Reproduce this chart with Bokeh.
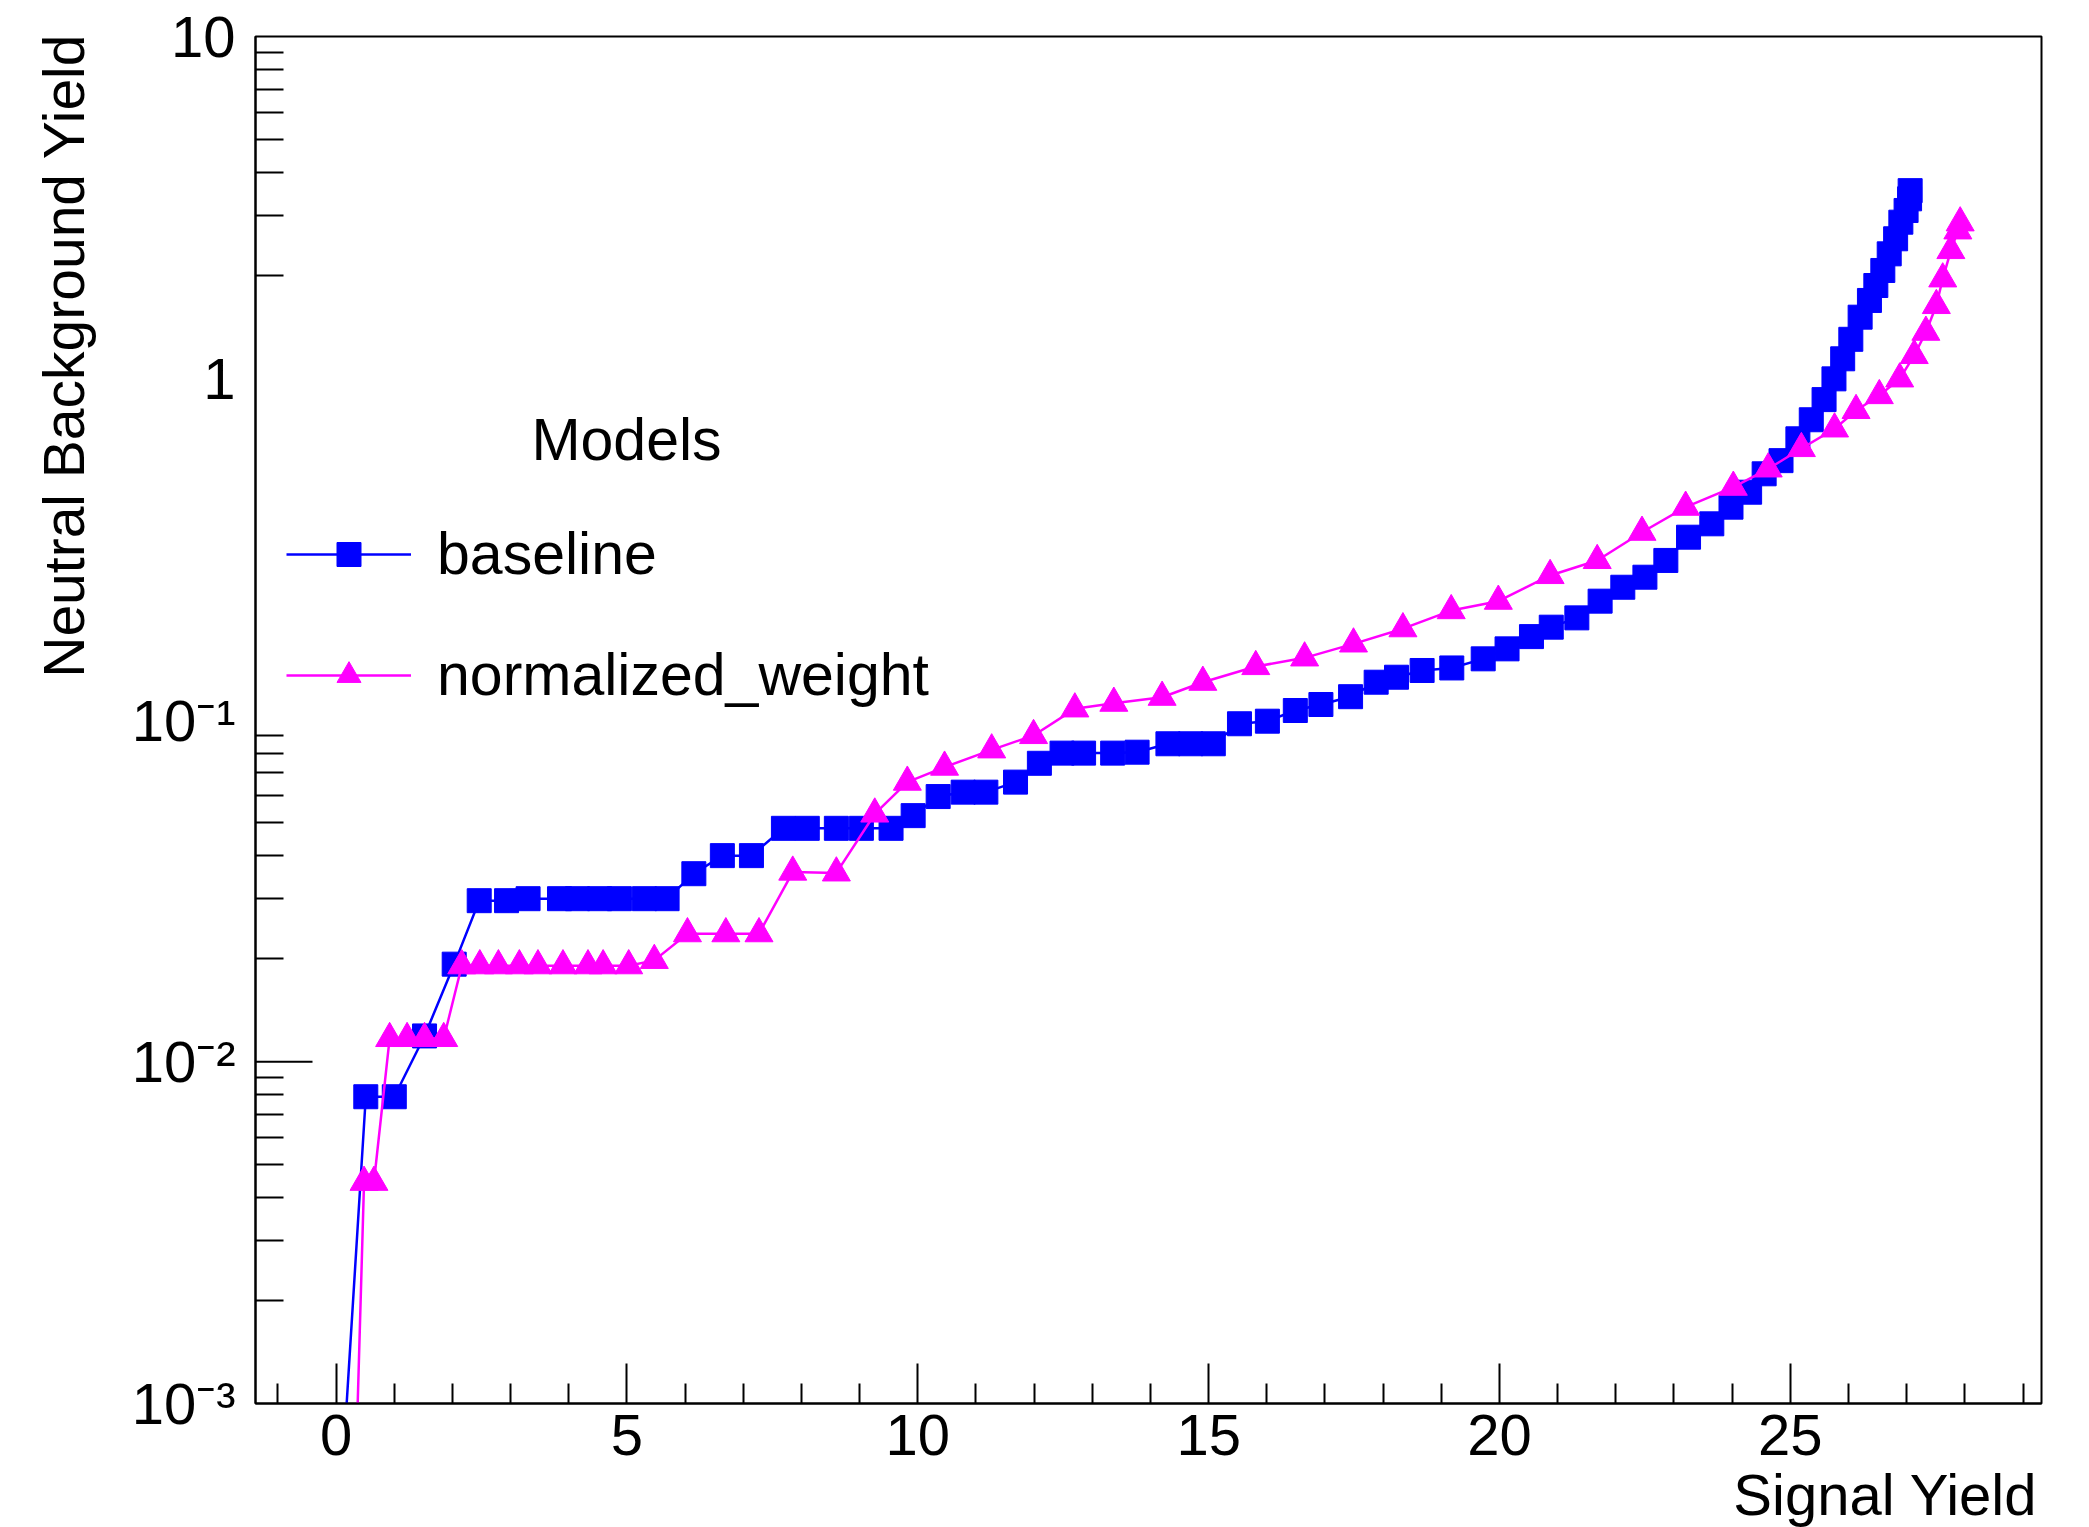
from bokeh.plotting import figure
from bokeh.models import Range1d, FixedTicker, Label, Legend, LegendItem
from bokeh.embed import file_html
from bokeh.resources import INLINE

# ---------------- data ----------------
baseline_x = [0.00, 0.51, 1.00, 1.52, 2.03, 2.46, 2.93, 3.30, 3.84, 4.15, 4.53, 4.87,
              5.30, 5.69, 6.15, 6.64, 7.14, 7.69, 8.10, 8.60, 9.03, 9.54, 9.92, 10.35,
              10.78, 11.17, 11.68, 12.09, 12.48, 12.85, 13.35, 13.77, 14.30, 14.69, 15.08,
              15.53, 16.01, 16.49, 16.93, 17.44, 17.88, 18.23, 18.67, 19.18, 19.72, 20.13,
              20.55, 20.89, 21.33, 21.73, 22.12, 22.50, 22.86, 23.25, 23.65, 23.98, 24.30,
              24.55, 24.84, 25.13, 25.36, 25.58, 25.75, 25.90, 26.04, 26.20, 26.36, 26.47,
              26.59, 26.70, 26.81, 26.90, 26.99, 27.05, 27.06]
baseline_y = [0.00032, 0.0079, 0.0079, 0.0119, 0.0193, 0.0296, 0.0296, 0.0300, 0.0300,
              0.0300, 0.0300, 0.0300, 0.0300, 0.0300, 0.0355, 0.0401, 0.0401, 0.0482,
              0.0482, 0.0482, 0.0482, 0.0482, 0.0525, 0.0597, 0.0615, 0.0615, 0.0658,
              0.0747, 0.0800, 0.0800, 0.0800, 0.0805, 0.0852, 0.0852, 0.0852, 0.0975,
              0.0992, 0.1066, 0.111, 0.117, 0.129, 0.1334, 0.1396, 0.142, 0.151, 0.1615,
              0.1754, 0.1869, 0.199, 0.2227, 0.2446, 0.2617, 0.293, 0.3427, 0.375, 0.4195,
              0.464, 0.5253, 0.574, 0.665, 0.756, 0.866, 0.996, 1.14, 1.30, 1.509, 1.689,
              1.868, 2.067, 2.312, 2.559, 2.862, 3.097, 3.35, 3.54]

norm_x = [0.30, 0.48, 0.65, 0.92, 1.22, 1.52, 1.85, 2.16, 2.47, 2.79, 3.15, 3.47, 3.90,
          4.33, 4.59, 5.03, 5.47, 6.04, 6.70, 7.27, 7.85, 8.60, 9.26, 9.82, 10.46, 11.27,
          11.99, 12.70, 13.37, 14.20, 14.90, 15.81, 16.65, 17.49, 18.34, 19.17, 19.98,
          20.87, 21.68, 22.45, 23.20, 24.02, 24.62, 25.19, 25.76, 26.13, 26.53, 26.88,
          27.13, 27.33, 27.51, 27.62, 27.76, 27.88, 27.92]
norm_y = [0.00038, 0.00444, 0.00444, 0.0117, 0.0117, 0.0117, 0.0117, 0.0191, 0.0191,
          0.0191, 0.0191, 0.0191, 0.0191, 0.0191, 0.0191, 0.0191, 0.0198, 0.0237, 0.0237,
          0.0237, 0.0359, 0.0357, 0.0531, 0.0658, 0.0728, 0.0818, 0.0901, 0.1078, 0.112,
          0.1166, 0.129, 0.1434, 0.152, 0.167, 0.185, 0.209, 0.2227, 0.2648, 0.293,
          0.3544, 0.4195, 0.480, 0.543, 0.623, 0.711, 0.805, 0.890, 0.996, 1.166, 1.364,
          1.633, 1.954, 2.365, 2.70, 2.85]

series_names = ["baseline", "normalized_weight"]
legend_title = "Models"
x_title = "Signal Yield"
y_title = "Neutral Background Yield"

x_ticks = [0, 5, 10, 15, 20, 25]
x_minor_ticks = [-1, 1, 2, 3, 4, 6, 7, 8, 9, 11, 12, 13, 14, 16, 17, 18, 19,
                 21, 22, 23, 24, 26, 27, 28, 29]
y_ticks = [0.001, 0.01, 0.1, 1, 10]
y_tick_labels = ["10\u207b\u00b3", "10\u207b\u00b2", "10\u207b\u00b9", "1", "10"]
y_long_ticks = [0.01]
y_minor_ticks = [m * 10.0 ** e for e in (-3, -2, 0) for m in range(2, 10)]

# ---------------- style ----------------
FONT = "Liberation Sans"
BLUE = "#0000ff"
MAGENTA = "#ff00ff"
x_start, x_end = -1.386, 29.318
y_start, y_end = 1e-3, 10
FRAME_W = 2089 - 255 - 48

p = figure(width=2089, height=1527,
           x_range=Range1d(x_start, x_end), y_range=Range1d(y_start, y_end),
           y_axis_type="log", output_backend="svg", toolbar_location=None,
           min_border_left=255, min_border_right=48, min_border_top=36,
           min_border_bottom=124)
p.background_fill_color = "white"
p.border_fill_color = "white"
p.outline_line_color = "black"
p.outline_line_width = 2
p.xgrid.visible = False
p.ygrid.visible = False

xa = p.xaxis[0]
xa.ticker = FixedTicker(ticks=x_ticks, minor_ticks=x_minor_ticks)
xa.axis_line_width = 2
xa.axis_line_color = "black"
xa.major_tick_in = 40
xa.major_tick_out = 0
xa.minor_tick_in = 20
xa.minor_tick_out = 0
xa.major_tick_line_width = 2
xa.minor_tick_line_width = 2
xa.major_tick_line_color = "black"
xa.minor_tick_line_color = "black"
xa.major_label_text_font = FONT
xa.major_label_text_font_size = "58px"
xa.major_label_text_color = "black"
xa.major_label_standoff = 11

ya = p.yaxis[0]
ya.ticker = FixedTicker(ticks=y_ticks, minor_ticks=y_minor_ticks)
ya.axis_line_width = 2
ya.axis_line_color = "black"
ya.major_tick_in = 0
ya.major_tick_out = 0
ya.minor_tick_in = 28
ya.minor_tick_out = 0
ya.minor_tick_line_width = 2
ya.minor_tick_line_color = "black"
ya.major_label_overrides = dict(zip(y_ticks, y_tick_labels))
ya.major_label_text_font = FONT
ya.major_label_text_font_size = "58px"
ya.major_label_text_color = "black"
ya.major_label_standoff = 20

# long ROOT-style major tick at 10^-2 (57 px into the frame)
tick_len = 57 * (x_end - x_start) / FRAME_W
p.segment(x0=[x_start] * len(y_long_ticks), x1=[x_start + tick_len] * len(y_long_ticks),
          y0=y_long_ticks, y1=y_long_ticks, line_color="black", line_width=2)

# ---------------- series ----------------
bl = p.line(baseline_x, baseline_y, line_color=BLUE, line_width=2.5)
bs = p.scatter(baseline_x, baseline_y, marker="square", size=24,
               fill_color=BLUE, line_color=BLUE)
ml = p.line(norm_x, norm_y, line_color=MAGENTA, line_width=2.5)
mt = p.scatter(norm_x, norm_y, marker="triangle", size=28,
               fill_color=MAGENTA, line_color=MAGENTA)

legend = Legend(items=[LegendItem(label=series_names[0], renderers=[bl, bs]),
                       LegendItem(label=series_names[1], renderers=[ml, mt])],
                location=(31, 694), orientation="vertical",
                glyph_width=125, glyph_height=60, label_height=24,
                label_standoff=26, spacing=53, padding=0, margin=0,
                border_line_alpha=0, background_fill_alpha=0,
                label_text_font=FONT, label_text_font_size="59px",
                label_text_color="black")
p.add_layout(legend)

p.add_layout(Label(x=x_start, y=y_end, x_offset=371, y_offset=-403,
                   text=legend_title, text_align="center", text_baseline="middle",
                   text_font=FONT, text_font_size="59px", text_color="black"))

# ---------------- axis titles ----------------
p.add_layout(Label(x=x_end, y=y_start, x_offset=-4, y_offset=-91, text=x_title,
                   text_align="right", text_baseline="middle",
                   text_font=FONT, text_font_size="58px", text_color="black"),
             "below")
p.add_layout(Label(x=x_start, y=y_end, x_offset=-192, y_offset=3, text=y_title,
                   angle=1.5707963267948966, text_align="right",
                   text_baseline="middle",
                   text_font=FONT, text_font_size="57px", text_color="black"),
             "left")

open("out.html", "w").write(file_html(p, INLINE))
